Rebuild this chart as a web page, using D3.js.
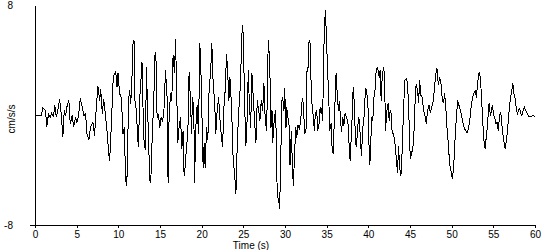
<!DOCTYPE html>
<html>
<head>
<meta charset="utf-8">
<script src="https://cdn.jsdelivr.net/npm/d3@7"></script>
<style>
  body { margin: 0; background: #fff; }
  text { font-family: "Liberation Sans", Arial, sans-serif; font-size: 10px; fill: #000; }
  .axis path, .axis line { stroke: #000; shape-rendering: crispEdges; }
</style>
</head>
<body>
<div id="chart"></div>
<script>
//-----------------------------DATA------------------------------//
// time in seconds, acceleration in cm/s/s
const times = [
  0, 0.78, 0.94, 1.26, 1.42, 1.62, 1.83, 1.98, 2.22, 2.38, 2.55, 2.74, 2.95, 3.15, 3.34, 3.51, 3.67, 3.82, 4.06, 4.23,
  4.47, 4.63, 4.87, 5.03, 5.23, 5.43, 5.68, 5.87, 6.07, 6.23, 6.47, 6.67, 6.95, 7.15, 7.36, 7.55, 7.76, 7.88, 8.08, 8.24,
  8.48, 8.68, 8.84, 8.96, 9.08, 9.23, 9.35, 9.47, 9.68, 9.84, 9.96, 10.16, 10.36, 10.56, 10.73, 10.85, 10.97, 11.09, 11.21, 11.36,
  11.48, 11.60, 11.76, 11.88, 12.00, 12.17, 12.29, 12.41, 12.57, 12.69, 12.84, 12.96, 13.08, 13.25, 13.37, 13.49, 13.61, 13.77, 13.89, 14.07,
  14.25, 14.41, 14.55, 14.65, 14.81, 14.97, 15.13, 15.29, 15.45, 15.66, 15.85, 15.97, 16.09, 16.26, 16.41, 16.57, 16.74, 16.86, 16.98, 17.13,
  17.29, 17.46, 17.62, 17.77, 17.89, 18.01, 18.18, 18.34, 18.49, 18.66, 18.78, 18.90, 19.06, 19.14, 19.30, 19.45, 19.62, 19.78, 19.90, 20.02,
  20.18, 20.30, 20.42, 20.59, 20.74, 20.90, 21.07, 21.22, 21.38, 21.55, 21.70, 21.86, 22.03, 22.18, 22.34, 22.51, 22.67, 22.82, 22.99, 23.15,
  23.27, 23.39, 23.59, 23.78, 23.95, 24.11, 24.26, 24.43, 24.59, 24.75, 24.87, 24.99, 25.15, 25.31, 25.47, 25.59, 25.71, 25.88, 26.03, 26.19,
  26.36, 26.51, 26.67, 26.84, 26.99, 27.15, 27.32, 27.47, 27.63, 27.80, 27.99, 28.16, 28.32, 28.44, 28.52, 28.68, 28.84, 28.92, 29.07, 29.24,
  29.36, 29.48, 29.64, 29.72, 29.88, 29.96, 30.12, 30.20, 30.36, 30.52, 30.60, 30.76, 30.88, 31.00, 31.17, 31.29, 31.41, 31.56, 31.72, 31.89,
  32.01, 32.13, 32.25, 32.37, 32.53, 32.65, 32.77, 32.89, 33.04, 33.16, 33.28, 33.40, 33.52, 33.64, 33.81, 33.93, 34.09, 34.21, 34.33, 34.45,
  34.53, 34.60, 34.72, 34.84, 34.96, 35.08, 35.25, 35.37, 35.53, 35.65, 35.77, 35.89, 36.01, 36.13, 36.29, 36.41, 36.53, 36.65, 36.77, 36.94,
  37.06, 37.21, 37.37, 37.54, 37.66, 37.81, 37.93, 38.06, 38.18, 38.30, 38.42, 38.54, 38.69, 38.81, 38.93, 39.05, 39.17, 39.34, 39.46, 39.58,
  39.70, 39.82, 39.94, 40.06, 40.18, 40.30, 40.42, 40.54, 40.66, 40.78, 40.90, 41.06, 41.18, 41.30, 41.42, 41.54, 41.66, 41.82, 41.94, 42.06,
  42.23, 42.38, 42.50, 42.62, 42.74, 42.86, 43.02, 43.23, 43.35, 43.50, 43.63, 43.75, 43.91, 44.03, 44.15, 44.27, 44.39, 44.55, 44.71, 44.87,
  45.03, 45.19, 45.35, 45.51, 45.67, 45.79, 45.91, 46.03, 46.15, 46.32, 46.47, 46.63, 46.80, 46.95, 47.11, 47.28, 47.44, 47.59, 47.76, 47.92,
  48.07, 48.24, 48.40, 48.55, 48.72, 48.88, 49.03, 49.15, 49.27, 49.44, 49.60, 49.75, 49.92, 50.08, 50.24, 50.40, 50.56, 50.72, 50.88, 51.04,
  51.20, 51.37, 51.52, 51.68, 51.85, 52.01, 52.17, 52.33, 52.49, 52.64, 52.81, 52.97, 53.12, 53.29, 53.45, 53.60, 53.77, 53.93, 54.05, 54.17,
  54.29, 54.41, 54.49, 54.65, 54.77, 54.89, 55.05, 55.17, 55.29, 55.46, 55.58, 55.70, 55.82, 55.94, 56.09, 56.25, 56.42, 56.58, 56.73, 56.90,
  57.06, 57.21, 57.34, 57.46, 57.62, 57.78, 57.90, 58.02, 58.17, 58.29, 58.41, 58.58, 58.74, 58.89, 59.06, 59.22, 59.38, 59.55, 59.70, 60
];
const accel = [
  0, 0, 0.52, 0.33, -0.84, 0.09, -0.16, 0.13, -0.11, 0.69, -0.16, 0.33, 1.13, 0.09, -1.61, 0.33, -0.04, 0.57, 1.11, -0.64,
  -0.04, -0.84, -0.16, -0.52, -0.04, 1.22, 0.52, -0.04, 0.09, -1.37, -1.80, -0.84, -0.52, -1.49, 0.57, 2.07, 1.05, 1.91, 0.09, 1.18,
  -0.16, -1.37, -2.82, -3.31, -1.85, 0.33, 2.27, 2.87, 3.19, 2.02, 3.04, 1.54, 1.29, -1.37, -0.89, -4.40, -5.13, -4.04, 1.05, 1.78,
  0.81, 2.02, 5.18, 5.47, 1.05, 0.33, -1.37, -2.34, 1.29, 2.27, 3.84, 0.57, -1.85, -2.58, 3.48, 0.81, -1.37, -4.76, -4.91, -1.5,
  1.05, 4.55, 3.8, -0.18, 0.1, -0.91, -0.18, -0.4, -0.04, 3.24, 1.27, -4.91, -0.18, 1.56, 1.05, 4.33, 3.02, 5.49, 2.51, -2.07,
  -0.91, -0.18, -2.44, -1.13, -4.4, -3.82, -2.36, -1.35, 3.09, 1.05, -1.35, 1.27, 0.33, -4.98, -0.91, 0.69, -1.35, 5.2, 3.45, 0.33,
  -3.89, -2.07, -3.82, -0.91, -1.85, 2.0, 3.02, 5.2, 2.29, 1.05, -1.35, 0.33, 1.27, -0.18, -1.35, -2.36, 0.55, 1.78, 4.47, 2.73,
  1.05, 2.73, 0.55, -3.31, -4.25, -5.71, -2.36, 0.11, 1.56, 4.18, 6.51, 5.93, 0.84, -2.22, -0.18, 3.24, 1.05, -0.91, 3.02, 1.27,
  -0.55, -2.07, 1.05, 0.33, -0.4, 1.05, 0.33, 2.29, -0.4, -1.13, 5.42, 3.96, -0.91, 0.33, -2.07, -0.62, 0.33, -0.91, -5.85, -6.22,
  -6.8, -3.31, 1.05, 1.27, 0.33, 1.93, -0.91, 0.55, -0.18, -0.91, -3.67, -1.13, -3.53, -5.13, -2.58, -0.91, -1.64, -0.76, -0.98, -0.4,
  0.84, 1.2, 0.11, -1.35, -0.98, 3.45, 3.45, 5.42, 5.2, 1.27, 0.55, -0.18, -1.13, 0.11, 0.33, -1.13, -0.62, 0.55, 0.11, 0.55,
  -0.4, 3.02, 6.15, 7.6, 5.93, 3.75, 1.27, -1.13, -0.62, -2.36, -2.8, -0.91, 1.05, 3.02, 1.27, 0.33, 1.05, -0.18, -1.27, -0.18,
  -0.76, 0.11, -0.18, -0.4, -1.85, -3.31, -1.85, -0.18, 2.0, 1.05, -1.13, -2.36, -1.35, -0.18, -0.4, -1.85, -2.95, -0.91, -0.4, 1.05,
  1.93, 1.56, 1.05, -1.85, -3.67, -1.85, -0.18, -0.4, 1.27, 1.56, 3.02, 3.45, 3.24, 2.73, 3.24, 1.05, 2.73, 3.45, 3.02, -1.13,
  0.33, 0.84, -0.4, 0.33, 0.11, -1.35, -1.35, -2.22, -3.09, -4.25, -2.22, -3.82, -4.4, -3.09, -0.91, 1.05, 2.51, 2.65, 2.29, -0.18,
  -3.16, -2.8, -2.36, -0.91, 2.0, 2.15, 1.78, 0.84, 2.51, 1.42, 1.27, 0.33, -0.04, -0.62, 0.33, 0.69, 0.18, 0.55, 0.91, 1.78,
  2.87, 3.38, 2.15, 2.73, 2.29, 1.05, 0.91, 1.56, 0.84, -0.91, -2.07, -3.53, -4.04, -4.62, -3.82, -1.85, -0.18, 1.05, 0.69, 0.33,
  -0.04, -0.62, -0.98, -1.13, -1.27, -0.98, -0.4, 0.55, 1.27, 1.56, 1.78, 1.27, 2.36, 3.09, 2.73, 1.05, -0.91, -2.36, -2.44, -1.35,
  -0.91, 0.33, 0.84, -0.04, 0.33, 0.69, -0.04, -0.18, -0.62, -0.55, -1.13, -0.4, 0.18, -0.04, -1.13, -1.85, -2.44, -1.85, -0.91, 0.33,
  1.27, 1.78, 2.29, 1.56, 1.2, 0.33, 0.11, 0.33, 0.47, 0.11, -0.04, 0.33, 0.55, 0.33, 0.11, -0.11, -0.11, -0.11, -0.04, -0.11
];
const xTicks = [0, 5, 10, 15, 20, 25, 30, 35, 40, 45, 50, 55, 60];
const yTicks = [-8, 8];

const data = times.map((t, i) => ({ t: t, v: accel[i] }));

//-----------------------------SVG-------------------------------//
const width = 550;
const height = 250;

const svg = d3.select("#chart").append("svg")
  .attr("width", width)
  .attr("height", height);

//----------------------------SCALES-----------------------------//
const x = d3.scaleLinear().domain([0, 60]).range([35, 535]);
const y = d3.scaleLinear().domain([-8, 8]).range([225, 5]);

//-----------------------------AXES------------------------------//
const yAxis = svg.append("g")
  .attr("class", "axis axis-y")
  .attr("transform", "translate(35,0)")
  .call(d3.axisLeft(y)
    .tickValues(yTicks)
    .tickFormat(v => String(v))   // plain hyphen, not the unicode minus
    .tickSize(5)
    .tickSizeOuter(0)
    .tickPadding(17));

// only the bottom tick sticks out on the left
yAxis.selectAll(".tick line").filter(d => d === 8).remove();

svg.append("g")
  .attr("class", "axis axis-x")
  .attr("transform", "translate(0,225)")
  .call(d3.axisBottom(x).tickValues(xTicks).tickSize(3).tickSizeOuter(0).tickPadding(3));

svg.selectAll(".axis text").style("font-size", "10px").attr("fill", "#000");
svg.selectAll(".axis .domain").attr("stroke", "#000");

svg.append("text")
  .attr("transform", "translate(15,119) rotate(-90)")
  .attr("text-anchor", "middle")
  .text("cm/s/s");

svg.append("text")
  .attr("x", 251)
  .attr("y", 249)
  .attr("text-anchor", "middle")
  .text("Time (s)");

//----------------------------LINE-------------------------------//
const line = d3.line()
  .x(d => x(d.t))
  .y(d => y(d.v));

svg.append("path")
  .datum(data)
  .attr("fill", "none")
  .attr("stroke", "#000")
  .attr("stroke-width", 1)
  .attr("shape-rendering", "crispEdges")
  .attr("d", line);
</script>
</body>
</html>
